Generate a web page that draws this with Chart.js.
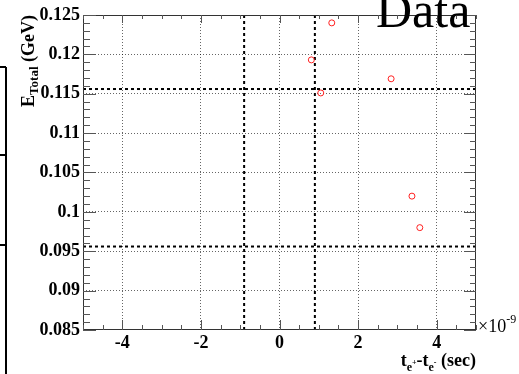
<!DOCTYPE html>
<html>
<head>
<meta charset="utf-8">
<script src="https://cdn.jsdelivr.net/npm/chart.js@4/dist/chart.umd.min.js"></script>
<style>
  html, body { margin: 0; padding: 0; background: #fff; }
  canvas { display: block; }
</style>
</head>
<body>
<canvas id="grafico" width="519" height="374"></canvas>
<script>
// valores (x en unidades de 1e-9 s)
const timeDiff = [0.81, 1.05, 1.33, 2.84, 3.37, 3.57];
const eTotal = [0.1193, 0.1151, 0.1240, 0.1169, 0.1020, 0.0980];

// cortes (lineas discontinuas)
const cutX = [-0.9, 0.9];
const cutY = [0.0956, 0.1156];

const xTicks = [-4, -2, 0, 2, 4];
const yTicks = [0.085, 0.09, 0.095, 0.1, 0.105, 0.11, 0.115, 0.12, 0.125];
const xRange = [-5, 5];
const yRange = [0.085, 0.125];

const SERIF = "'Liberation Serif', 'Times New Roman', serif";

// dibuja una cadena con sub/superindices, devuelve el ancho
function drawParts(ctx, parts, x, y, measureOnly) {
  let w = 0;
  parts.forEach(p => {
    ctx.font = (p.bold === false ? "" : "bold ") + p.size + "px " + SERIF;
    if (!measureOnly) ctx.fillText(p.t, x + w, y + (p.dy || 0));
    w += ctx.measureText(p.t).width;
  });
  return w;
}

const marco = {
  id: "marco",
  afterDraw(chart) {
    const ctx = chart.ctx;
    const a = chart.chartArea;
    const xs = chart.scales.x, ys = chart.scales.y;
    ctx.save();

    // marco
    ctx.strokeStyle = "#333";
    ctx.lineWidth = 1;
    ctx.strokeRect(a.left + 0.5, a.top + 0.5, a.right - a.left - 1, a.bottom - a.top - 1);

    // marcas del eje x
    ctx.strokeStyle = "#555";
    ctx.beginPath();
    for (let i = 0; i <= 20; i++) {
      const v = xRange[0] + i * 0.5;
      const px = Math.round(xs.getPixelForValue(v)) + 0.5;
      const major = (Math.abs(v) % 2 === 0);
      ctx.moveTo(px, a.bottom); ctx.lineTo(px, a.bottom - (major ? 10 : 5));
      ctx.moveTo(px, a.top); ctx.lineTo(px, a.top + (major ? 8 : 4));
    }
    // marcas del eje y
    for (let i = 0; i <= 40; i++) {
      const v = yRange[0] + i * 0.001;
      const py = Math.round(ys.getPixelForValue(v)) + 0.5;
      const major = (i % 5 === 0);
      ctx.moveTo(a.left, py); ctx.lineTo(a.left + (major ? 13 : 7), py);
      ctx.moveTo(a.right, py); ctx.lineTo(a.right - (major ? 12 : 6), py);
    }
    ctx.stroke();

    // caja recortada a la izquierda
    ctx.strokeStyle = "#000";
    ctx.lineWidth = 2;
    ctx.beginPath();
    ctx.moveTo(6, 67); ctx.lineTo(6, 374);
    [67, 155, 245].forEach(y => { ctx.moveTo(0, y); ctx.lineTo(6, y); });
    ctx.stroke();

    ctx.fillStyle = "#000";
    ctx.textBaseline = "alphabetic";
    ctx.textAlign = "left";

    // titulo
    ctx.font = "50px " + SERIF;
    ctx.fillText("Data", 376, 27);

    // titulo eje x
    const xt = [
      { t: "t", size: 18 }, { t: "e", size: 12, dy: 5 }, { t: "+", size: 8, dy: -1 },
      { t: "-t", size: 18 }, { t: "e", size: 12, dy: 5 }, { t: "-", size: 8, dy: -1 },
      { t: " (sec)", size: 18 }
    ];
    const wx = drawParts(ctx, xt, 0, 0, true);
    drawParts(ctx, xt, a.right - wx, 366);

    // exponente
    drawParts(ctx, [{ t: "\u00d710", size: 18, bold: false }, { t: "-9", size: 12, bold: false, dy: -9 }], a.right + 2, 332);

    // titulo eje y
    const yt = [{ t: "E", size: 18 }, { t: "Total", size: 13, dy: 4 }, { t: " (GeV)", size: 18 }];
    const wy = drawParts(ctx, yt, 0, 0, true);
    ctx.translate(34, a.top);
    ctx.rotate(-Math.PI / 2);
    drawParts(ctx, yt, -wy, 0);

    ctx.restore();
  }
};

const lineasCorte = [];
cutX.forEach(v => lineasCorte.push([{ x: v, y: yRange[0] }, { x: v, y: yRange[1] }]));
cutY.forEach(v => lineasCorte.push([{ x: xRange[0], y: v }, { x: xRange[1], y: v }]));

new Chart(document.getElementById("grafico"), {
  type: "scatter",
  data: {
    datasets: [
      {
        label: "Data",
        data: timeDiff.map((t, i) => ({ x: t, y: eTotal[i] })),
        pointStyle: "circle",
        pointRadius: 3,
        borderWidth: 1,
        borderColor: "#ff2020",
        backgroundColor: "rgba(0,0,0,0)",
        order: 0
      },
      ...lineasCorte.map(d => ({
        type: "line",
        data: d,
        borderColor: "#000",
        borderWidth: 2,
        borderDash: [3, 3],
        pointRadius: 0,
        order: 1
      }))
    ]
  },
  options: {
    responsive: false,
    animation: false,
    devicePixelRatio: 1,
    layout: { padding: { left: 0, top: 15, right: 43, bottom: 0 } },
    plugins: { legend: { display: false }, tooltip: { enabled: false } },
    scales: {
      x: {
        type: "linear",
        min: xRange[0],
        max: xRange[1],
        afterBuildTicks: s => { s.ticks = xTicks.map(v => ({ value: v })); },
        afterFit: s => { s.height = 44; },
        grid: { color: "rgba(0,0,0,0.6)", lineWidth: 1, drawTicks: false },
        border: { display: false, dash: [1, 2] },
        ticks: {
          padding: 3,
          color: "#000",
          font: { family: SERIF, size: 18, weight: "bold" },
          maxRotation: 0,
          callback: v => String(v)
        }
      },
      y: {
        type: "linear",
        min: yRange[0],
        max: yRange[1],
        afterBuildTicks: s => { s.ticks = yTicks.map(v => ({ value: v })); },
        afterFit: s => { s.width = 83; },
        grid: {
          color: c => (c.tick && (c.tick.value === yRange[0] || c.tick.value === yRange[1])) ? "rgba(0,0,0,0)" : "rgba(0,0,0,0.6)",
          lineWidth: 1,
          drawTicks: false
        },
        border: { display: false, dash: [1, 2] },
        ticks: {
          padding: 3,
          color: "#000",
          font: { family: SERIF, size: 18, weight: "bold" },
          callback: v => String(parseFloat(v.toFixed(3)))
        }
      }
    }
  },
  plugins: [marco]
});
</script>
</body>
</html>
